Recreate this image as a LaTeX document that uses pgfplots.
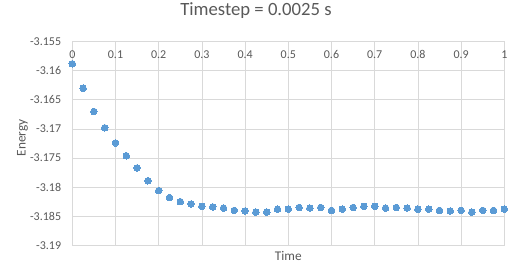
\documentclass[border=0pt]{standalone}
\usepackage{fontspec}
\setmainfont{Carlito}
\usepackage{pgfplots}
\pgfplotsset{compat=1.18}
\definecolor{ser}{HTML}{5B9BD5}
\definecolor{grd}{HTML}{D9D9D9}
\definecolor{txt}{HTML}{595959}
\begin{document}
\begin{tikzpicture}
\useasboundingbox (0,0) rectangle (512bp,273bp);
\begin{axis}[
  at={(72.3bp,27.7bp)}, anchor=south west,
  scale only axis, width=432bp, height=203.6bp,
  xmin=0, xmax=1, ymin=-3.19, ymax=-3.155,
  xtick={0,0.1,0.2,0.3,0.4,0.5,0.6,0.7,0.8,0.9,1},
  xticklabels={0,0.1,0.2,0.3,0.4,0.5,0.6,0.7,0.8,0.9,1},
  ytick={-3.19,-3.185,-3.18,-3.175,-3.17,-3.165,-3.16,-3.155},
  yticklabels={-3.19,-3.185,-3.18,-3.175,-3.17,-3.165,-3.16,-3.155},
  xticklabel pos=upper,
  major tick length=0pt,
  grid=major,
  grid style={grd, line width=0.75bp},
  axis line style={grd, line width=0.9bp},
  x tick label style={font=\fontsize{12bp}{14bp}\selectfont, text=txt, anchor=north, inner sep=0pt, yshift=-8.7bp},
  y tick label style={font=\fontsize{12bp}{14bp}\selectfont, text=txt, anchor=east, inner sep=0pt, xshift=-11bp},
  title={Timestep = 0.0025 s},
  title style={at={(axis description cs:0.4252,1.101)}, anchor=base, inner sep=0pt, font=\fontsize{18.7bp}{22bp}\selectfont, text=txt},
  xlabel={Time},
  xlabel style={at={(axis description cs:0.5,-0.0722)}, anchor=base, inner sep=0pt, font=\fontsize{13.3bp}{16bp}\selectfont, text=txt},
  ylabel={Energy},
  ylabel style={at={(axis description cs:-0.108,0.527)}, anchor=base, inner sep=0pt, font=\fontsize{13.3bp}{16bp}\selectfont, text=txt},
  clip=false,
]
\addplot[ser, only marks, mark=*, mark size=3.3bp, mark options={fill=ser, draw=ser, line width=0pt}] coordinates {
(0,-3.1588) (0.025,-3.1630) (0.05,-3.1670) (0.075,-3.1698) (0.1,-3.1724)
(0.125,-3.1746) (0.15,-3.1767) (0.175,-3.1789) (0.2,-3.1806) (0.225,-3.1818)
(0.25,-3.1825) (0.275,-3.1829) (0.3,-3.1833) (0.325,-3.1834) (0.35,-3.1836)
(0.375,-3.1840) (0.4,-3.1841) (0.425,-3.1843) (0.45,-3.1843) (0.475,-3.1838)
(0.5,-3.1838) (0.525,-3.1835) (0.55,-3.1836) (0.575,-3.1835) (0.6,-3.1840)
(0.625,-3.1838) (0.65,-3.1835) (0.675,-3.1833) (0.7,-3.1833) (0.725,-3.1836)
(0.75,-3.1835) (0.775,-3.1836) (0.8,-3.1838) (0.825,-3.1838) (0.85,-3.1840)
(0.875,-3.1841) (0.9,-3.1840) (0.925,-3.1843) (0.95,-3.1840) (0.975,-3.1840)
(1,-3.1838)
};
\end{axis}
\end{tikzpicture}
\end{document}
